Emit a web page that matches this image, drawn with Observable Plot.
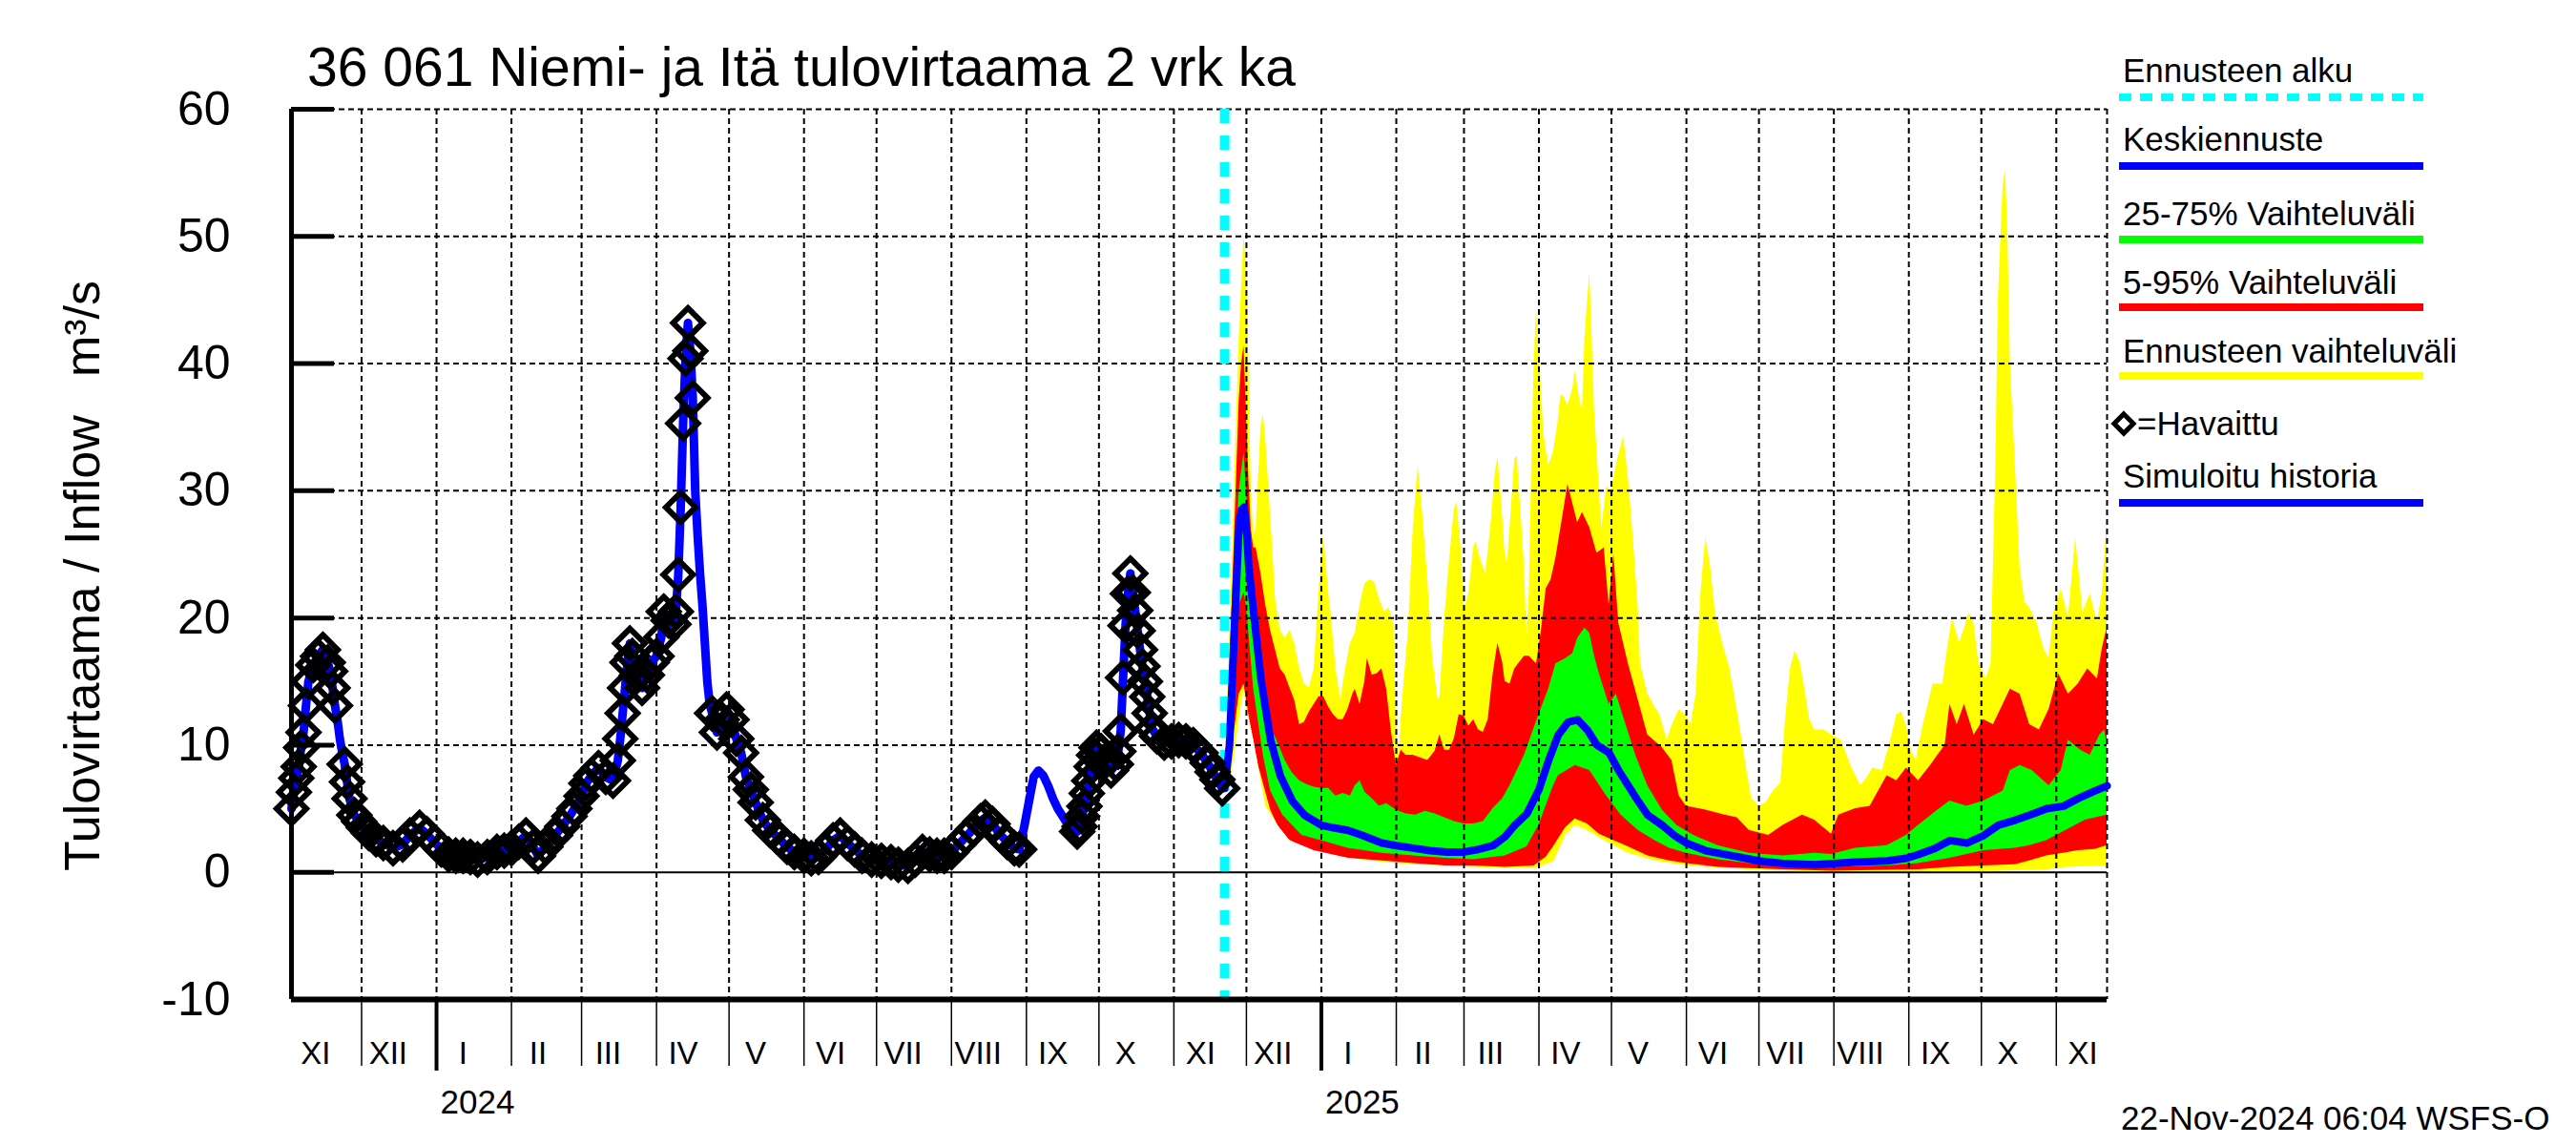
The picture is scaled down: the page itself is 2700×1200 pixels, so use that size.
<!DOCTYPE html>
<html>
<head>
<meta charset="utf-8">
<script src="https://cdn.jsdelivr.net/npm/d3@7"></script>
<script src="https://cdn.jsdelivr.net/npm/@observablehq/plot@0.6"></script>
<style>
html,body{margin:0;padding:0;background:#fff;}
#chart svg{display:block;}
</style>
</head>
<body>
<div id="chart"></div>
<script>
// ---------- texts / labels ----------
const titleText = "36 061 Niemi- ja Itä tulovirtaama 2 vrk ka";
const yLabelMain = "Tulovirtaama / Inflow";
const yLabelUnit = "m³/s";
const footerText = "22-Nov-2024 06:04 WSFS-O";
const romanMonths = ["I","II","III","IV","V","VI","VII","VIII","IX","X","XI","XII"];
const yearLabels = [["2024-01-01","2024"],["2025-01-01","2025"]];
const yTicks = [-10,0,10,20,30,40,50,60];
const xDomain = ["2023-11-02","2025-11-22"];
const forecastStart = "2024-11-22";
const legendItems = [
  {label:"Ennusteen alku", color:"#00ffff", kind:"dash"},
  {label:"Keskiennuste", color:"#0000ff", kind:"line"},
  {label:"25-75% Vaihteluväli", color:"#00ff00", kind:"line"},
  {label:"5-95% Vaihteluväli", color:"#ff0000", kind:"line"},
  {label:"Ennusteen vaihteluväli", color:"#ffff00", kind:"line"},
  {label:"=Havaittu", color:"#000000", kind:"diamond"},
  {label:"Simuloitu historia", color:"#0000ff", kind:"line"}
];

// ---------- observed (diamonds) ----------
const observed = [
["2023-11-02",5.0],["2023-11-03",6.3],["2023-11-04",7.4],["2023-11-05",8.3],["2023-11-06",9.8],["2023-11-07",11.0],
["2023-11-08",13.1],["2023-11-09",15.0],["2023-11-11",16.3],["2023-11-13",17.0],["2023-11-15",17.5],["2023-11-17",16.5],
["2023-11-18",15.8],["2023-11-19",14.5],["2023-11-20",13.1],["2023-11-24",8.5],["2023-11-25",7.1],["2023-11-26",5.8],
["2023-11-28",4.5],["2023-11-30",4.0],["2023-12-02",3.5],["2023-12-04",3.1],["2023-12-07",2.6],["2023-12-10",2.3],
["2023-12-14",1.9],["2023-12-18",2.2],["2023-12-21",2.9],["2023-12-25",3.5],["2023-12-28",3.0],["2023-12-31",2.4],
["2024-01-03",1.8],["2024-01-06",1.4],["2024-01-09",1.3],["2024-01-12",1.3],["2024-01-15",1.2],["2024-01-18",1.0],
["2024-01-22",1.2],["2024-01-26",1.6],["2024-01-29",1.7],["2024-02-01",1.9],["2024-02-04",2.4],["2024-02-07",2.9],
["2024-02-10",2.0],["2024-02-12",1.3],["2024-02-15",2.0],["2024-02-19",2.9],["2024-02-22",3.6],["2024-02-25",4.4],
["2024-02-27",5.0],["2024-03-01",6.0],["2024-03-03",7.0],["2024-03-05",7.6],["2024-03-08",8.2],["2024-03-11",7.5],
["2024-03-14",7.2],["2024-03-16",8.8],["2024-03-17",10.5],["2024-03-18",12.5],["2024-03-19",14.5],["2024-03-20",16.5],
["2024-03-21",18.0],["2024-03-22",17.0],["2024-03-24",15.5],["2024-03-26",14.5],["2024-03-28",15.5],["2024-03-30",16.5],
["2024-04-01",17.0],["2024-04-03",18.5],["2024-04-04",20.5],["2024-04-06",19.8],["2024-04-08",19.5],["2024-04-09",20.5],
["2024-04-10",23.4],["2024-04-11",28.7],["2024-04-12",35.3],["2024-04-13",40.4],["2024-04-14",43.2],["2024-04-15",41.0],
["2024-04-16",37.3],["2024-04-24",12.5],["2024-04-26",11.0],["2024-04-28",12.0],["2024-04-30",12.8],["2024-05-02",12.0],
["2024-05-04",10.5],["2024-05-06",9.4],["2024-05-08",7.5],["2024-05-10",6.5],["2024-05-12",5.5],["2024-05-15",4.1],
["2024-05-18",3.3],["2024-05-22",2.6],["2024-05-25",2.0],["2024-05-28",1.6],["2024-06-01",1.3],["2024-06-04",1.1],
["2024-06-07",1.2],["2024-06-10",1.8],["2024-06-13",2.5],["2024-06-16",2.9],["2024-06-19",2.3],["2024-06-22",1.8],
["2024-06-25",1.3],["2024-06-29",1.0],["2024-07-03",0.9],["2024-07-07",0.8],["2024-07-10",0.6],["2024-07-14",0.5],
["2024-07-17",1.0],["2024-07-20",1.6],["2024-07-23",1.4],["2024-07-26",1.3],["2024-07-29",1.3],["2024-08-01",1.6],
["2024-08-04",2.2],["2024-08-07",2.8],["2024-08-10",3.4],["2024-08-13",4.0],["2024-08-15",4.3],["2024-08-18",3.8],
["2024-08-21",3.0],["2024-08-24",2.4],["2024-08-27",1.9],["2024-08-29",1.8],["2024-09-22",3.2],["2024-09-23",3.6],
["2024-09-24",4.4],["2024-09-25",5.2],["2024-09-26",6.2],["2024-09-27",7.2],["2024-09-28",8.3],["2024-09-29",9.2],
["2024-09-30",9.8],["2024-10-02",9.5],["2024-10-04",8.8],["2024-10-06",8.0],["2024-10-08",8.5],["2024-10-09",9.5],
["2024-10-10",11.1],["2024-10-11",15.3],["2024-10-12",19.4],["2024-10-13",21.9],["2024-10-14",23.5],["2024-10-15",22.0],
["2024-10-16",20.6],["2024-10-17",19.0],["2024-10-18",17.5],["2024-10-19",16.2],["2024-10-20",15.0],["2024-10-21",13.8],
["2024-10-22",12.5],["2024-10-23",11.3],["2024-10-25",10.7],["2024-10-28",10.2],["2024-10-31",10.3],["2024-11-03",10.4],
["2024-11-06",10.3],["2024-11-09",10.0],["2024-11-12",9.4],["2024-11-15",8.6],["2024-11-17",7.9],["2024-11-19",7.3],
["2024-11-21",6.6]
];
// simulated history where no observation exists
const simulatedGaps = [
["2023-11-21",12.0],["2023-11-22",10.5],["2023-11-23",9.4],
["2024-04-17",30.0],["2024-04-18",26.5],["2024-04-19",23.5],["2024-04-20",21.0],["2024-04-21",18.0],["2024-04-22",15.0],["2024-04-23",13.2],
["2024-08-31",3.5],["2024-09-02",5.5],["2024-09-04",7.5],["2024-09-06",8.0],["2024-09-08",7.6],["2024-09-10",6.8],
["2024-09-12",5.8],["2024-09-14",5.0],["2024-09-16",4.4],["2024-09-18",3.8],["2024-09-20",3.4]
];

// ---------- forecast ----------
const fcMax = [
["2024-11-22",6.6],["2024-11-24",18],["2024-11-26",30],["2024-11-28",42],["2024-11-30",50],["2024-12-01",48],["2024-12-02",40],
["2024-12-03",30],["2024-12-04",26.5],["2024-12-05",27],["2024-12-06",31],["2024-12-07",35],["2024-12-08",36],["2024-12-09",34],
["2024-12-10",31],["2024-12-12",25],["2024-12-13",21.5],["2024-12-15",19],["2024-12-17",18.4],["2024-12-19",19],["2024-12-21",18],
["2024-12-23",16],["2024-12-25",14.8],["2024-12-27",14.5],["2024-12-29",16],["2024-12-31",22],["2025-01-02",26.5],["2025-01-04",22],
["2025-01-05",20.4],["2025-01-07",16],["2025-01-09",13.6],["2025-01-11",16],["2025-01-13",18],["2025-01-15",18.8],["2025-01-17",21],
["2025-01-19",22.7],["2025-01-21",23],["2025-01-23",22.8],["2025-01-25",21.5],["2025-01-27",20.5],["2025-01-29",20.8],["2025-01-31",19.5],
["2025-02-01",12],["2025-02-02",8.5],["2025-02-03",12],["2025-02-04",14.5],["2025-02-06",19],["2025-02-08",27],["2025-02-10",32],
["2025-02-12",28],["2025-02-14",23],["2025-02-16",17],["2025-02-18",13.8],["2025-02-19",13.6],["2025-02-21",20],["2025-02-23",24.5],
["2025-02-25",28.5],["2025-02-26",29.1],["2025-02-28",25],["2025-03-01",20.5],["2025-03-03",22],["2025-03-05",25.5],["2025-03-06",26],
["2025-03-08",24.5],["2025-03-10",23.5],["2025-03-12",27],["2025-03-14",31.5],["2025-03-15",32.7],["2025-03-17",28],["2025-03-18",25],
["2025-03-19",24.3],["2025-03-20",27],["2025-03-22",32.5],["2025-03-23",32.7],["2025-03-25",27],["2025-03-26",24],["2025-03-27",18.5],
["2025-03-28",22],["2025-03-29",32],["2025-03-30",40],["2025-03-31",44.2],["2025-04-02",38],["2025-04-03",34.5],["2025-04-05",32],
["2025-04-07",33],["2025-04-09",35.5],["2025-04-10",37.5],["2025-04-11",37.5],["2025-04-13",36.7],["2025-04-15",38],["2025-04-16",39.4],
["2025-04-18",37],["2025-04-19",36.3],["2025-04-20",42],["2025-04-22",47.2],["2025-04-23",42],["2025-04-24",36.3],["2025-04-26",30],
["2025-04-27",27],["2025-04-29",30.3],["2025-05-01",30],["2025-05-03",32],["2025-05-06",34.3],["2025-05-08",31],["2025-05-10",26.3],
["2025-05-12",21],["2025-05-13",16.4],["2025-05-16",14],["2025-05-19",13],["2025-05-21",12.4],["2025-05-24",10.4],["2025-05-26",11.5],
["2025-05-29",12.8],["2025-06-01",12.3],["2025-06-03",11.6],["2025-06-05",14],["2025-06-07",22],["2025-06-09",26.3],["2025-06-11",24],
["2025-06-13",20.4],["2025-06-16",18],["2025-06-19",16],["2025-06-23",11.6],["2025-06-26",8],["2025-06-28",5.8],["2025-07-01",5.2],
["2025-07-04",5.5],["2025-07-07",6.4],["2025-07-10",7],["2025-07-12",12],["2025-07-14",16],["2025-07-16",17.4],["2025-07-18",16.5],
["2025-07-20",14.4],["2025-07-22",12],["2025-07-24",11.2],["2025-07-28",11.2],["2025-07-31",10.8],["2025-08-04",10.4],["2025-08-08",8.4],
["2025-08-12",6.8],["2025-08-15",7.5],["2025-08-17",8.2],["2025-08-21",8],["2025-08-24",10],["2025-08-27",12.4],["2025-08-29",12.6],
["2025-08-31",11.5],["2025-09-02",9.5],["2025-09-04",8.8],["2025-09-07",11.6],["2025-09-11",14.8],["2025-09-15",14.8],["2025-09-17",17.6],
["2025-09-19",20],["2025-09-22",18],["2025-09-26",20.4],["2025-09-28",19.5],["2025-09-30",16.4],["2025-10-03",15.2],["2025-10-05",16.4],
["2025-10-07",32.3],["2025-10-08",45],["2025-10-10",54],["2025-10-11",55.3],["2025-10-12",50],["2025-10-13",40],["2025-10-15",32.3],
["2025-10-17",24],["2025-10-19",21.2],["2025-10-21",20.8],["2025-10-24",19.6],["2025-10-27",17.5],["2025-10-29",16.8],["2025-10-31",20.4],
["2025-11-03",22.3],["2025-11-06",20],["2025-11-09",26.3],["2025-11-12",20.4],["2025-11-15",21.9],["2025-11-18",19.6],["2025-11-20",22],
["2025-11-22",27.5]
];
const fc95 = [
["2024-11-22",6.6],["2024-11-24",15],["2024-11-26",26],["2024-11-28",37],["2024-11-29",40],["2024-11-30",41.4],["2024-12-01",36],
["2024-12-02",31],["2024-12-03",27],["2024-12-04",25.5],["2024-12-05",25.5],["2024-12-07",23.5],["2024-12-09",21],["2024-12-11",19],
["2024-12-13",17.5],["2024-12-15",16],["2024-12-17",15.5],["2024-12-19",14.5],["2024-12-21",13.5],["2024-12-23",11.6],["2024-12-25",11.8],
["2024-12-27",12.6],["2024-12-29",13.2],["2024-12-31",13.8],["2025-01-02",13.8],["2025-01-04",13],["2025-01-06",12.4],["2025-01-08",12],
["2025-01-10",12],["2025-01-12",12.8],["2025-01-14",14],["2025-01-15",14.4],["2025-01-17",13.2],["2025-01-19",15],["2025-01-20",16.8],
["2025-01-22",15.5],["2025-01-24",15.6],["2025-01-26",16],["2025-01-28",14.4],["2025-01-30",11],["2025-02-01",8.4],["2025-02-03",9.6],
["2025-02-05",9.2],["2025-02-08",9.2],["2025-02-11",9],["2025-02-14",8.8],["2025-02-17",9.5],["2025-02-19",10.8],["2025-02-21",9.6],
["2025-02-23",9.6],["2025-02-25",10.5],["2025-02-27",12.4],["2025-03-01",12.3],["2025-03-03",11.5],["2025-03-05",12],["2025-03-07",11.2],
["2025-03-09",11],["2025-03-11",12],["2025-03-13",15.5],["2025-03-15",18],["2025-03-17",16.5],["2025-03-18",15],["2025-03-20",14.8],
["2025-03-22",16],["2025-03-24",16.5],["2025-03-26",17],["2025-03-28",17],["2025-03-31",16.4],["2025-04-02",19],["2025-04-04",22.3],
["2025-04-06",23],["2025-04-08",24.7],["2025-04-10",27],["2025-04-13",30.5],["2025-04-15",29],["2025-04-17",27.5],["2025-04-19",28.3],
["2025-04-22",27.1],["2025-04-25",25.1],["2025-04-28",25.5],["2025-04-30",21],["2025-05-02",25],["2025-05-04",19.6],["2025-05-08",16.4],
["2025-05-12",13.6],["2025-05-16",10.8],["2025-05-22",9.8],["2025-05-26",8.8],["2025-05-29",6],["2025-06-01",5.2],["2025-06-09",4.9],
["2025-06-17",4.5],["2025-06-22",4.3],["2025-06-27",3.3],["2025-07-05",2.9],["2025-07-11",3.7],["2025-07-19",4.5],["2025-07-24",4.1],
["2025-07-31",3.0],["2025-08-03",4.5],["2025-08-10",5],["2025-08-16",5.2],["2025-08-23",7.6],["2025-08-27",7.2],["2025-08-31",8.2],
["2025-09-05",7.2],["2025-09-10",8.4],["2025-09-16",10],["2025-09-18",13.2],["2025-09-21",11.6],["2025-09-24",13.2],["2025-09-28",10.8],
["2025-10-02",12],["2025-10-06",11.6],["2025-10-10",13.2],["2025-10-13",14.4],["2025-10-17",14],["2025-10-21",11.6],["2025-10-25",11.2],
["2025-10-29",12.8],["2025-11-02",15.6],["2025-11-06",14],["2025-11-10",14.8],["2025-11-14",16],["2025-11-18",15.2],["2025-11-20",17.6],
["2025-11-22",19.2]
];
const fc75 = [
["2024-11-22",6.6],["2024-11-24",12],["2024-11-26",22],["2024-11-28",30],["2024-11-30",33],["2024-12-01",30],["2024-12-02",27],
["2024-12-04",23],["2024-12-06",18],["2024-12-08",14.8],["2024-12-10",12.5],["2024-12-12",11],["2024-12-14",10.2],["2024-12-17",8.8],
["2024-12-20",7.8],["2024-12-23",7.2],["2024-12-26",6.9],["2024-12-29",6.7],["2025-01-01",6.6],["2025-01-04",6.6],["2025-01-07",6.0],
["2025-01-10",6.2],["2025-01-13",6.0],["2025-01-15",6.8],["2025-01-17",7.2],["2025-01-19",6.3],["2025-01-22",5.8],["2025-01-25",5.2],
["2025-01-28",5.4],["2025-02-01",4.9],["2025-02-05",4.6],["2025-02-09",4.5],["2025-02-13",4.8],["2025-02-17",4.6],["2025-02-21",4.3],
["2025-02-25",4.0],["2025-03-01",3.8],["2025-03-05",3.8],["2025-03-09",4.0],["2025-03-13",5.0],["2025-03-17",5.8],["2025-03-20",6.8],
["2025-03-23",8.0],["2025-03-26",9.2],["2025-03-29",10.8],["2025-04-01",12.4],["2025-04-05",14.4],["2025-04-08",16.4],["2025-04-12",16.8],
["2025-04-15",17.2],["2025-04-17",18.4],["2025-04-20",19.2],["2025-04-22",18.8],["2025-04-24",17],["2025-04-26",15.6],["2025-04-30",13.2],
["2025-05-03",14],["2025-05-07",11.6],["2025-05-11",9.2],["2025-05-16",6.8],["2025-05-22",4.9],["2025-05-28",3.7],["2025-06-04",2.9],
["2025-06-14",2.1],["2025-06-27",1.5],["2025-07-11",1.3],["2025-07-24",1.5],["2025-07-31",1.4],["2025-08-10",1.9],["2025-08-23",2.1],
["2025-08-31",2.9],["2025-09-05",3.7],["2025-09-13",4.9],["2025-09-18",5.6],["2025-09-25",5.2],["2025-10-02",5.6],["2025-10-10",6.4],
["2025-10-13",8],["2025-10-17",8.4],["2025-10-22",8],["2025-10-29",6.8],["2025-11-03",8],["2025-11-06",10.4],["2025-11-11",9.6],
["2025-11-15",9.2],["2025-11-19",10.8],["2025-11-21",11.2],["2025-11-22",10]
];
const fcMedian = [
["2024-11-22",6.6],["2024-11-24",10],["2024-11-26",19],["2024-11-28",27.5],["2024-11-29",28.5],["2024-11-30",28.7],["2024-12-01",27],
["2024-12-02",24],["2024-12-04",20.4],["2024-12-07",15.2],["2024-12-11",10.4],["2024-12-15",7.6],["2024-12-20",5.6],["2024-12-25",4.5],
["2025-01-01",3.7],["2025-01-06",3.5],["2025-01-12",3.3],["2025-01-18",2.9],["2025-01-26",2.3],["2025-02-01",2.1],["2025-02-08",1.9],
["2025-02-15",1.7],["2025-02-22",1.6],["2025-03-01",1.6],["2025-03-07",1.8],["2025-03-13",2.1],["2025-03-18",2.8],["2025-03-22",3.7],
["2025-03-27",4.6],["2025-04-01",6.5],["2025-04-05",8.8],["2025-04-09",10.8],["2025-04-13",11.8],["2025-04-17",12],["2025-04-21",11.2],
["2025-04-25",10],["2025-04-30",9.4],["2025-05-04",8],["2025-05-08",6.8],["2025-05-12",5.6],["2025-05-16",4.5],["2025-05-22",3.7],
["2025-05-27",2.9],["2025-06-01",2.3],["2025-06-09",1.7],["2025-06-20",1.3],["2025-07-01",0.9],["2025-07-11",0.7],["2025-07-24",0.6],
["2025-08-10",0.8],["2025-08-23",0.9],["2025-08-31",1.1],["2025-09-05",1.4],["2025-09-12",1.9],["2025-09-18",2.5],["2025-09-25",2.3],
["2025-10-02",2.9],["2025-10-08",3.7],["2025-10-15",4.1],["2025-10-21",4.5],["2025-10-28",5.0],["2025-11-04",5.2],["2025-11-10",5.8],
["2025-11-17",6.4],["2025-11-22",6.8]
];
const fc25 = [
["2024-11-22",6.6],["2024-11-24",9],["2024-11-26",15],["2024-11-28",21],["2024-11-30",22],["2024-12-01",21],["2024-12-04",14.4],
["2024-12-08",9.2],["2024-12-11",6.4],["2024-12-16",4.5],["2024-12-24",2.9],["2025-01-01",2.5],["2025-01-12",1.9],["2025-01-26",1.5],
["2025-02-08",1.3],["2025-02-21",1.1],["2025-03-05",1.0],["2025-03-18",1.3],["2025-03-27",2.0],["2025-04-01",3.7],["2025-04-07",6.8],
["2025-04-09",7.6],["2025-04-16",8.4],["2025-04-22",8.0],["2025-04-29",6.0],["2025-05-05",4.5],["2025-05-12",3.3],["2025-05-19",2.5],
["2025-05-25",1.9],["2025-06-01",1.5],["2025-06-14",1.0],["2025-06-27",0.7],["2025-07-11",0.5],["2025-07-31",0.4],["2025-08-23",0.5],
["2025-09-05",0.7],["2025-09-18",1.1],["2025-10-02",1.7],["2025-10-15",1.9],["2025-10-21",2.1],["2025-10-28",2.5],["2025-11-05",3.3],
["2025-11-13",4.1],["2025-11-22",4.5]
];
const fc5 = [
["2024-11-22",6.6],["2024-11-24",7.5],["2024-11-26",11],["2024-11-28",14],["2024-11-30",14.8],["2024-12-02",12.4],["2024-12-06",8.4],
["2024-12-11",4.9],["2024-12-16",2.9],["2024-12-24",1.9],["2025-01-01",1.5],["2025-01-12",1.1],["2025-01-26",0.9],["2025-02-08",0.7],
["2025-02-21",0.5],["2025-03-05",0.5],["2025-03-18",0.4],["2025-03-30",0.5],["2025-04-04",1.2],["2025-04-07",2.0],["2025-04-12",3.5],
["2025-04-16",4.2],["2025-04-21",3.8],["2025-04-26",3.0],["2025-05-02",2.5],["2025-05-08",2.0],["2025-05-16",1.3],["2025-05-25",0.9],
["2025-06-01",0.7],["2025-06-14",0.4],["2025-06-27",0.3],["2025-07-11",0.2],["2025-07-31",0.1],["2025-09-05",0.2],["2025-09-18",0.4],
["2025-10-02",0.5],["2025-10-15",0.6],["2025-10-21",0.9],["2025-10-28",1.3],["2025-11-04",1.5],["2025-11-10",1.7],["2025-11-17",1.8],
["2025-11-22",2.1]
];
const fcMin = [
["2024-11-22",6.6],["2024-11-24",7],["2024-11-26",9],["2024-11-28",12],["2024-11-30",14.4],["2024-12-01",13],["2024-12-04",10.4],
["2024-12-09",5.2],["2024-12-14",3.7],["2024-12-19",2.5],["2024-12-29",1.7],["2025-01-12",1.1],["2025-01-26",0.8],["2025-02-08",0.6],
["2025-02-21",0.5],["2025-03-05",0.4],["2025-03-18",0.3],["2025-03-30",0.3],["2025-04-07",0.8],["2025-04-10",2.0],["2025-04-12",2.9],
["2025-04-16",3.7],["2025-04-21",3.3],["2025-04-28",2.5],["2025-05-08",1.5],["2025-05-19",0.9],["2025-06-01",0.5],["2025-06-27",0.2],
["2025-07-31",0.0],["2025-10-01",0.05],["2025-10-28",0.2],["2025-11-05",0.4],["2025-11-22",0.5]
];

// ---------- build ----------
const FONT = "'Liberation Sans', Arial, Helvetica, sans-serif";
const W = 2700, H = 1200, ML = 305, MR = 492, MT = 114, MB = 153;
const plotW = W - ML - MR;
const parse = s => new Date(s + "T00:00:00Z");
const toRows = arr => arr.map(([d, v]) => ({date: parse(d), value: v}));
const obsRows = toRows(observed);
const simRows = toRows(observed.concat(simulatedGaps)).sort((a, b) => a.date - b.date);
const x0 = parse(xDomain[0]), x1 = parse(xDomain[1]);
const monthStarts = d3.utcMonth.range(d3.utcMonth.ceil(x0), x1);
const yearStarts = yearLabels.map(([d]) => parse(d));
const monthLabelDates = d3.utcMonth.range(d3.utcMonth.floor(x0), x1).map(m => d3.utcDay.offset(m, 11));
const yearRows = yearLabels.map(([d, l]) => ({date: parse(d), label: l}));

const dashed = {stroke: "#000", strokeWidth: 2, strokeDasharray: "6,4"};
const band = (arr, fill) => Plot.areaY(toRows(arr), {x: "date", y1: 0, y2: "value", fill, curve: "linear"});

const chart = Plot.plot({
  width: W, height: H,
  marginLeft: ML, marginRight: MR, marginTop: MT, marginBottom: MB,
  style: {fontFamily: FONT, background: "#fff", color: "#000", overflow: "visible"},
  x: {type: "utc", domain: [x0, x1], axis: null},
  y: {domain: [-10, 60], axis: null},
  marks: [
    band(fcMax, "#ffff00"),
    band(fc95, "#ff0000"),
    band(fc75, "#00ff00"),
    band(fc25, "#ff0000"),
    band(fc5, "#ffff00"),
    band(fcMin, "#ffffff"),
    Plot.ruleX(monthStarts, dashed),
    Plot.ruleY([10, 20, 30, 40, 50, 60], dashed),
    Plot.ruleX([x1], dashed),
    Plot.ruleY([0], {stroke: "#000", strokeWidth: 2}),
    Plot.ruleX([parse(forecastStart)], {stroke: "#00ffff", strokeWidth: 10, strokeDasharray: "15,13"}),
    Plot.line(simRows, {x: "date", y: "value", stroke: "#0000ff", strokeWidth: 9, curve: "linear"}),
    Plot.line(toRows(fcMedian), {x: "date", y: "value", stroke: "#0000ff", strokeWidth: 8, curve: "linear"}),
    Plot.dot(obsRows, {x: "date", y: "value", symbol: "diamond2", r: 14, stroke: "#000", strokeWidth: 6, fill: "none"}),
    Plot.ruleX([x0], {stroke: "#000", strokeWidth: 5}),
    Plot.ruleY([-10], {stroke: "#000", strokeWidth: 6}),
    Plot.tickY(yTicks, {y: d => d, stroke: "#000", strokeWidth: 5, insetRight: plotW - 45}),
    Plot.axisY({ticks: yTicks, tickSize: 0, tickPadding: 64, fontSize: 50, label: null, tickFormat: d => String(d)}),
    Plot.axisX({ticks: monthStarts, tickSize: 70, tickFormat: () => "", strokeWidth: 1.5, label: null}),
    Plot.axisX({ticks: yearStarts, tickSize: 75, tickFormat: () => "", strokeWidth: 4, label: null}),
    Plot.text(monthLabelDates, {x: d => d, text: d => romanMonths[d.getUTCMonth()], frameAnchor: "bottom", dy: 67, fontSize: 33}),
    Plot.text(yearRows, {x: "date", text: "label", frameAnchor: "bottom", dy: 119, dx: 4, textAnchor: "start", fontSize: 35})
  ]
});
document.getElementById("chart").appendChild(chart);

// ---------- decorations: title, y label, legend, footer ----------
const svg = d3.select(chart);
svg.append("text").attr("x", 322).attr("y", 90).attr("text-anchor", "start").attr("font-family", FONT)
  .attr("font-size", 57).attr("fill", "#000").text(titleText);

const yl = svg.append("g").attr("font-family", FONT).attr("font-size", 52).attr("fill", "#000");
yl.append("text").attr("transform", "translate(86,913) rotate(-90)").attr("dy", "0.35em").attr("text-anchor", "start").text(yLabelMain);
yl.append("text").attr("transform", "translate(86,294) rotate(-90)").attr("dy", "0.35em").attr("text-anchor", "end").text(yLabelUnit);

const legendLayout = [
  {ty: 74, ly: 102}, {ty: 146, ly: 174}, {ty: 224, ly: 251}, {ty: 296, ly: 322},
  {ty: 368, ly: 394}, {ty: 444}, {ty: 499, ly: 527}
];
const lg = svg.append("g").attr("font-family", FONT).attr("font-size", 35).attr("fill", "#000").attr("text-anchor", "start");
legendItems.forEach((item, i) => {
  const pos = legendLayout[i];
  if (item.kind === "diamond") {
    lg.append("path").attr("d", d3.symbol(d3.symbolDiamond2, 260)()).attr("transform", `translate(2226,${pos.ty})`)
      .attr("fill", "none").attr("stroke", "#000").attr("stroke-width", 5);
    lg.append("text").attr("x", 2240).attr("y", pos.ty).attr("dy", "0.35em").attr("text-anchor", "start").text(item.label);
  } else {
    lg.append("text").attr("x", 2225).attr("y", pos.ty).attr("dy", "0.35em").attr("text-anchor", "start").text(item.label);
    const ln = lg.append("line").attr("x1", 2221).attr("x2", 2540).attr("y1", pos.ly).attr("y2", pos.ly)
      .attr("stroke", item.color).attr("stroke-width", 8);
    if (item.kind === "dash") ln.attr("stroke-dasharray", "13,9");
  }
});

svg.append("text").attr("x", 2223).attr("y", 1172).attr("dy", "0.35em").attr("text-anchor", "start").attr("font-family", FONT)
  .attr("font-size", 35).attr("fill", "#000").text(footerText);
</script>
</body>
</html>
